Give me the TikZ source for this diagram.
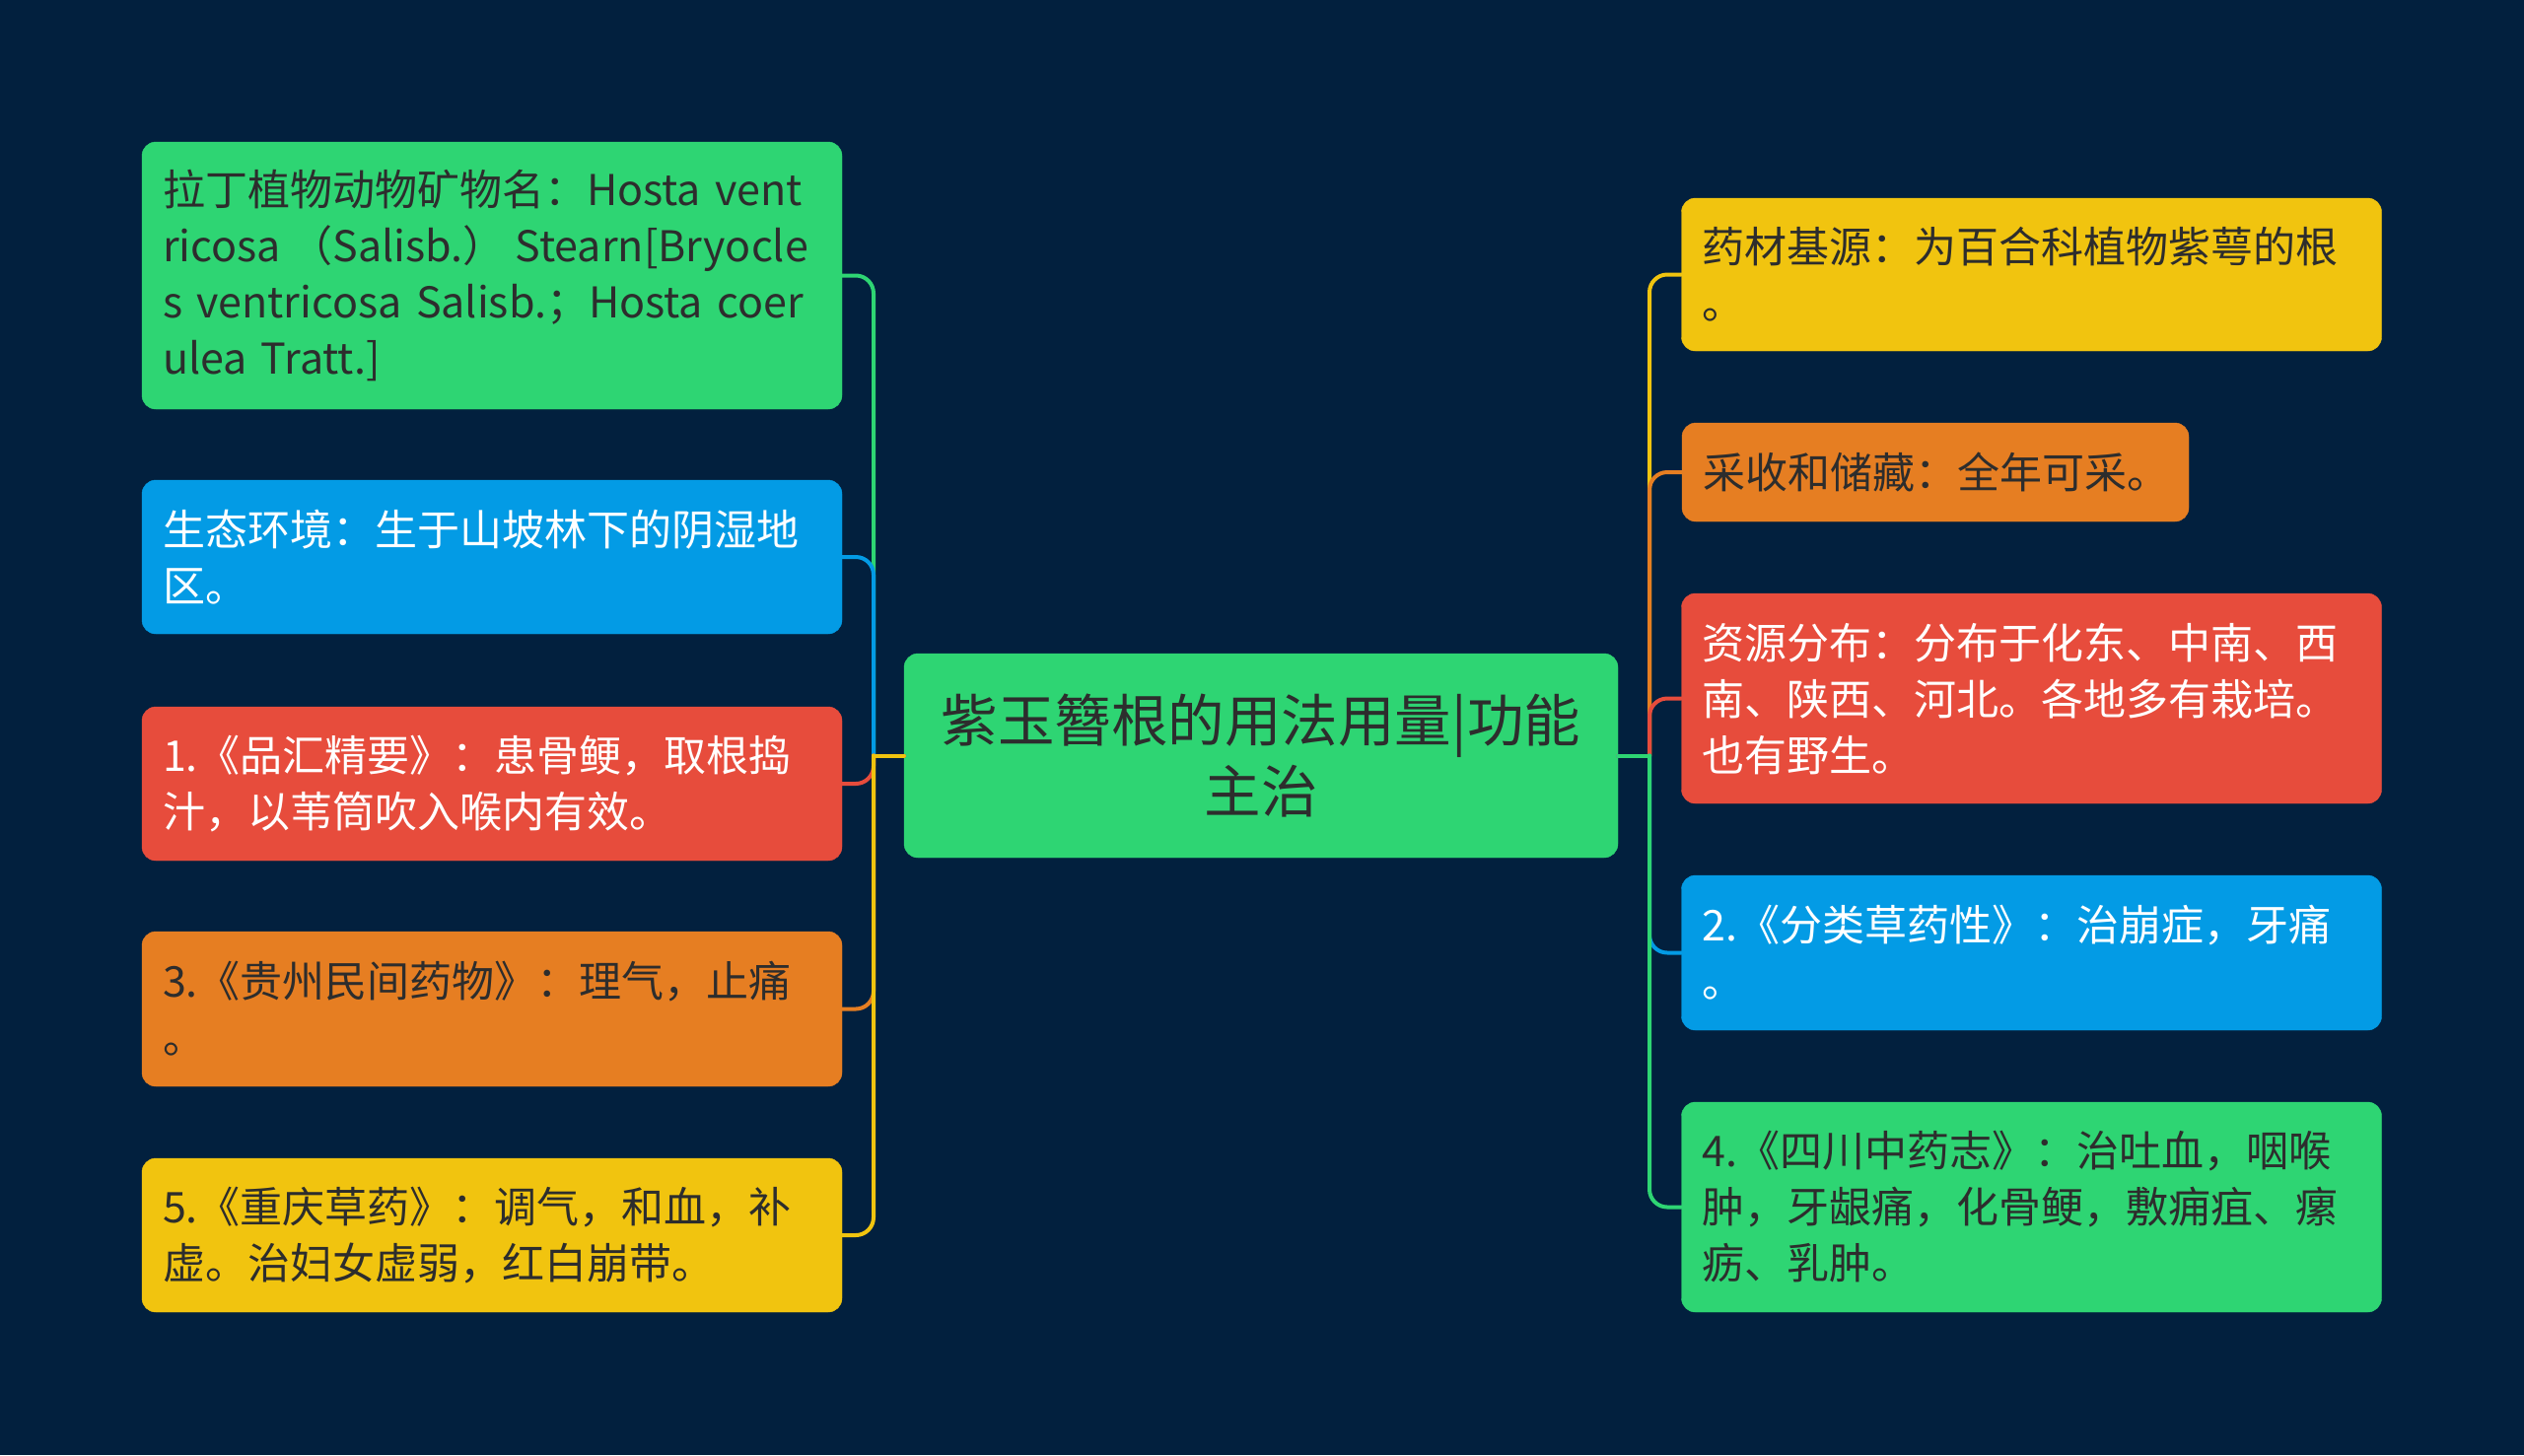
\documentclass[tikz,border=0pt]{standalone}
\usepackage{fontspec}
\setmainfont{Noto Sans CJK SC}
\definecolor{bg}{HTML}{02203E}
\definecolor{cgreen}{HTML}{2ED573}
\definecolor{cblue}{HTML}{039BE5}
\definecolor{cred}{HTML}{E74C3C}
\definecolor{corange}{HTML}{E67E22}
\definecolor{cyellow}{HTML}{F1C40F}
\definecolor{tdark}{HTML}{2D2D2D}
\tikzset{
  box/.style={rounded corners=14pt, inner xsep=21pt, inner ysep=0pt, align=left,
    font=\fontsize{43}{57}\selectfont, anchor=center},
  lbox/.style={box, text width=668pt, minimum height=#1},
  conn/.style={line width=4pt, line cap=round},
  elbow/.style={conn, rounded corners=18pt},
}
\begin{document}
\begin{tikzpicture}[x=1pt,y=-1pt]
\fill[bg] (0,0) rectangle (2560,1476);
\useasboundingbox (0,0) rectangle (2560,1476);

% center
\node[box, fill=cgreen, draw=cgreen, text=tdark, align=center, text width=682pt,
  minimum height=207pt, font=\fontsize{57.5}{72}\selectfont] (C) at (1279,766.5)
  {紫玉簪根的用法用量|功能\\主治};

\coordinate (LJ) at (886,766.5);
\coordinate (RJ) at (1673,766.5);

% left nodes
\node[lbox=271pt, fill=cgreen, draw=cgreen, text=tdark] (L1) at (499,279.5)
  {\mbox{拉丁植物动物矿物名：Hosta vent}\\\makebox[655pt][s]{ricosa\hspace{4pt plus 1fil}（Salisb.）\hspace{4pt plus 1fil}Stearn[Bryocle}\\\mbox{s ventricosa Salisb.；Hosta coer}\\\mbox{ulea Tratt.]}};
\node[lbox=156pt, fill=cblue, draw=cblue, text=white] (L2) at (499,565)
  {生态环境：生于山坡林下的阴湿地\\区。};
\node[lbox=156pt, fill=cred, draw=cred, text=white] (L3) at (499,795)
  {1.《品汇精要》：患骨鲠，取根捣\\汁，以苇筒吹入喉内有效。};
\node[lbox=157pt, fill=corange, draw=corange, text=tdark] (L4) at (499,1023.5)
  {3.《贵州民间药物》：理气，止痛\\。};
\node[lbox=156pt, fill=cyellow, draw=cyellow, text=tdark] (L5) at (499,1253)
  {5.《重庆草药》：调气，和血，补\\虚。治妇女虚弱，红白崩带。};

% right nodes
\node[lbox=155pt, fill=cyellow, draw=cyellow, text=tdark] (R1) at (2060.5,278.5)
  {药材基源：为百合科植物紫萼的根\\。};
\node[box, text width=472pt, minimum height=100pt, fill=corange, draw=corange, text=tdark] (R2) at (1963,479)
  {采收和储藏：全年可采。};
\node[lbox=213pt, fill=cred, draw=cred, text=white] (R3) at (2060.5,708.5)
  {资源分布：分布于化东、中南、西\\南、陕西、河北。各地多有栽培。\\也有野生。};
\node[lbox=157pt, fill=cblue, draw=cblue, text=white] (R4) at (2060.5,966.5)
  {2.《分类草药性》：治崩症，牙痛\\。};
\node[lbox=213pt, fill=cgreen, draw=cgreen, text=tdark] (R5) at (2060.5,1224.5)
  {4.《四川中药志》：治吐血，咽喉\\肿，牙龈痛，化骨鲠，敷痈疽、瘰\\疬、乳肿。};

% left connectors
\draw[conn, cgreen] (C.west) -- (LJ);  \draw[elbow, cgreen] (LJ) |- (L1.east);
\draw[conn, cblue] (C.west) -- (LJ);   \draw[elbow, cblue] (LJ) |- (L2.east);
\draw[conn, cred] (C.west) -- (LJ);    \draw[elbow, cred] (LJ) |- (L3.east);
\draw[conn, corange] (C.west) -- (LJ); \draw[elbow, corange] (LJ) |- (L4.east);
\draw[conn, cyellow] (C.west) -- (LJ); \draw[elbow, cyellow] (LJ) |- (L5.east);

% right connectors
\draw[conn, cyellow] (C.east) -- (RJ); \draw[elbow, cyellow] (RJ) |- (R1.west);
\draw[conn, corange] (C.east) -- (RJ); \draw[elbow, corange] (RJ) |- (R2.west);
\draw[conn, cred] (C.east) -- (RJ);    \draw[elbow, cred] (RJ) |- (R3.west);
\draw[conn, cblue] (C.east) -- (RJ);   \draw[elbow, cblue] (RJ) |- (R4.west);
\draw[conn, cgreen] (C.east) -- (RJ);  \draw[elbow, cgreen] (RJ) |- (R5.west);
\end{tikzpicture}
\end{document}
